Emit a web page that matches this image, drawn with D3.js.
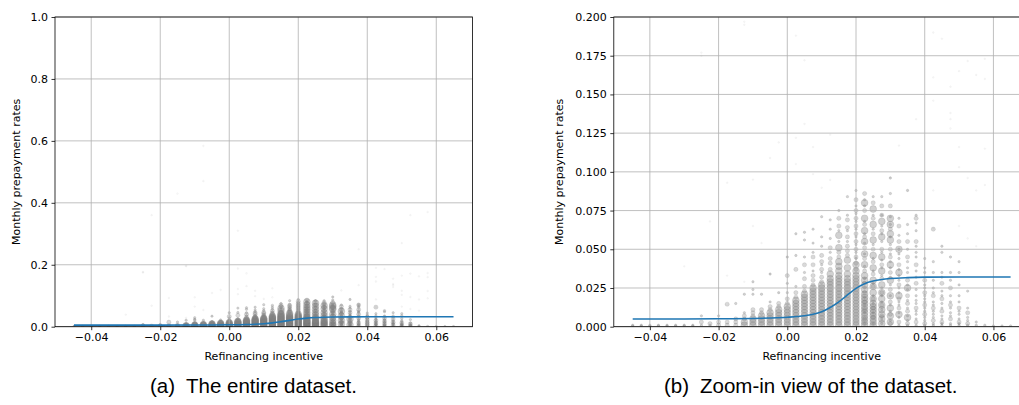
<!DOCTYPE html>
<html>
<head>
<meta charset="utf-8">
<script src="https://cdn.jsdelivr.net/npm/d3@7"></script>
<style>
  body { margin: 0; background: #fff; }
  text { font-family: "DejaVu Sans", sans-serif; }
  .caption { font-family: "Liberation Sans", Arial, sans-serif; font-size: 20.5px; fill: #000; }
</style>
</head>
<body>
<svg id="chart" width="1019" height="405"></svg>

<script>
  // refinancing incentive of each column of observations
  const incentive = [-0.045, -0.0425, -0.04, -0.0375, -0.035, -0.0325, -0.03, -0.0275, -0.025, -0.0225,
                     -0.02, -0.0175, -0.015, -0.0125, -0.01, -0.0075, -0.005, -0.0025, 0, 0.0025,
                     0.005, 0.0075, 0.01, 0.0125, 0.015, 0.0175, 0.02, 0.0225, 0.025, 0.0275,
                     0.03, 0.0325, 0.035, 0.0375, 0.04, 0.0425, 0.045, 0.0475, 0.05, 0.0525,
                     0.055, 0.0575, 0.06, 0.0625, 0.065]

  // prepayment rates per column (in 1/1000), split by marker size
  const largePts = ['', '', '', '', '', '', '', '', '', '',
    '', '', '', '1 3', '1 3 5', '1 3 5 7', '1 3 5 7 9', '1 3 5 7 9 11', '1 3 5 7 9 11 13', '1 3 5 7 9 11 13 15 17',
    '1 3 5 7 9 11 13 15 17 19 21', '1 3 5 7 9 11 13 15 17 19 21 23 25', '1 3 5 7 9 11 13 15 17 19 21 23 25 27',
    '1 3 5 7 9 11 13 15 17 19 21 23 25 27 29 31 34', '1 3 5 7 9 11 13 15 17 19 21 23 25 27 29 31 33 36 39 42 51 59',
    '1 3 5 7 9 11 13 15 17 19 21 23 25 27 29 31 34 38 43', '1 3 5 7 9 11 13 15 17 19 21 23 25 27 29 31 33 36 40',
    '1 3 5 7 9 11 13 15 17 19 21 24 27 30 33 40 47 55 62 70 80', '1 3 5 7 9 11 13 15 18 22 26 30 38 46 56 66 76',
    '2 5 8 11 14 18 22 27 36 45 58 68', '3 7 12 20 30 40 56 60 66 70', '8 20 35 50', '6 25',
    '', '', '', '', '', '', '', '', '', '', '', '']

  const mediumPts = ['', '', '', '', '', '', '', '', '3', '2',
    '1 3', '1 3 14.5', '1 3 5', '5 7', '7 9 11', '9 11', '11 13', '13 15', '15 18 33', '19 22 37',
    '23 26 31 40', '27 30 33 40 45', '29 32 37 42 46', '37 41 44 51', '45 48 65 70', '46 49 52 58 64 69',
    '37 41 45 50 55 60 65 70 75 82', '5 11 16 22 28 36 44 51 58 66 75 86', '6 12 18 26 34 42 50 60 70 80',
    '7 14 22 31 40 50 62 72 78', '2 8 16 24 35 45 50 63 78', '3 12 18 27 40 55 65', '2 10 15 20 30 45 55',
    '3 12 28 40 55 70', '2 8 14 22 30', '4 12 20 63', '3 10 18 28', '5 14 25', '3 12', '2 9',
    '', '', '', '', '']

  const smallPts = ['0.5 1', '0.5 1', '0.5 1', '0.5 1', '0.5 1', '0.5 1', '0.5 1', '0.5 1', '1 7', '1',
    '7', '', '15', '9 21', '21 24 29', '21', '16 34', '22', '22 28 45', '26 46 60',
    '35 45 56 61', '36 48 54 63', '35 40 52 58 71', '48 57 63 69', '55 62 75', '55 62 72 84',
    '44 48 53 58 63 68 73 78 88', '2 9 14 19 25 31 39 47 54 60 68 78 82', '2 9 15 20 28 36 44 53 63 72 84',
    '2 5 11 16 20 25 33 38 43 48 55 60 65 72 84', '4 10 14 20 27 32 38 42 47 53 58 66 71 86 96',
    '1 6 9 14 16 22 25 30 33 37 44 47 50 59 70', '1 4 7 12 17 24 27 35 38 42 50 60 66 88',
    '1 5 8 10 15 17 20 24 32 36 45 48 52 62 67 72', '1 4 6 10 12 16 18 20 25 27 35 38 44',
    '1 2 6 8 10 14 16 22 25 30 35 42', '1 2 5 7 12 15 20 23 32 35 48 52', '1 2 7 9 12 16 20 30 35 45',
    '1 2 5 8 10 16 20 27 35 42', '1 4 6 12 23', '1 3', '1', '0.5', '0.5', '0.5']

  // sparse, faint observations [incentive, rate]
  const outliers = [[-0.0225, 0.36], [0.0025, 0.31], [-0.025, 0.177], [-0.0125, 0.197], [0.0025, 0.188],
    [0.0375, 0.25], [0.0425, 0.19], [0.0525, 0.36], [0.0575, 0.37], [0.05, 0.27], [-0.0075, 0.584],
    [-0.0075, 0.47], [-0.015, 0.43], [-0.0125, 0.195], [-0.025, 0.175], [-0.0025, 0.119], [-0.005, 0.109],
    [-0.0175, 0.093], [-0.01, 0.095], [0.005, 0.172], [0.005, 0.131], [0.0025, 0.122], [0.0025, 0.105],
    [0.0125, 0.124], [0.0075, 0.116], [0.0075, 0.0985], [0.01, 0.0898], [0.0125, 0.0948], [0.03, 0.0965],
    [0.035, 0.088], [0.0325, 0.117], [0.0375, 0.134], [0.045, 0.186], [0.0425, 0.146], [0.0475, 0.138],
    [0.0475, 0.134], [0.0475, 0.128], [0.0525, 0.1716], [0.05, 0.165], [0.055, 0.1626], [0.0575, 0.16],
    [0.0575, 0.173], [0.0475, 0.155], [0.0425, 0.161], [0.0425, 0.088], [0.0525, 0.096], [0.05, 0.116],
    [0.0575, 0.115], [0.0575, 0.0915], [0.055, 0.088], [0.05, 0.103], [-0.03, 0.039], [-0.0225, 0.068],
    [-0.0175, 0.033], [-0.0125, 0.029], [-0.01, 0.065], [-0.0075, 0.054], [-0.005, 0.034], [-0.0025, 0.022],
    [0, 0.045], [0.0425, 0.0635], [0.05, 0.065], [0.0525, 0.057], [0.055, 0.052]]

  // fitted prepayment curve
  const fitX = [-0.045, -0.03, -0.02, -0.01, -0.005, 0, 0.005, 0.0075, 0.01, 0.0125, 0.015,
                0.0175, 0.02, 0.0225, 0.025, 0.0275, 0.03, 0.035, 0.04, 0.05, 0.065]
  const fitY = [0.0050, 0.0050, 0.0051, 0.0053, 0.0056, 0.0061, 0.0071, 0.0081, 0.0097, 0.0124, 0.0160,
                0.0205, 0.0248, 0.0278, 0.0295, 0.0305, 0.0311, 0.0317, 0.0320, 0.0321, 0.0321]

  const xTicks = [-0.04, -0.02, 0.00, 0.02, 0.04, 0.06]
  const leftYTicks = [0, 0.2, 0.4, 0.6, 0.8, 1.0]
  const rightYTicks = [0, 0.025, 0.05, 0.075, 0.1, 0.125, 0.15, 0.175, 0.2]

  const sizes = [
    { pts: largePts, r: 3.4, op: 0.36 },
    { pts: mediumPts, r: 2.1, op: 0.3 },
    { pts: smallPts, r: 1.2, op: 0.35 }
  ]

  let points = []
  sizes.forEach(function(s) {
    s.pts.forEach(function(str, i) {
      if (str === '') return
      str.split(' ').forEach(function(v) {
        points.push({ x: incentive[i], y: +v / 1000, r: s.r, op: s.op })
      })
    })
  })
  outliers.forEach(function(d) {
    points.push({ x: d[0], y: d[1], r: 0.9, op: 0.07 })
  })

  const fit = fitX.map(function(x, i) { return [x, fitY[i]] })

  const svg = d3.select('#chart')
  const plotTop = 17, plotBottom = 326.7

  const panels = [
    { id: 'a', left: 55, right: 472.5, yMax: 1, yTicks: leftYTicks, fmt: d3.format('.1f'), labX: 16.5,
      capX: 150, caption: 'The entire dataset.' },
    { id: 'b', left: 613.8, right: 1029.5, yMax: 0.2, yTicks: rightYTicks, fmt: d3.format('.3f'), labX: 559,
      capX: 664, caption: 'Zoom-in view of the dataset.' }
  ]

  panels.forEach(function(p) {
    const x = d3.scaleLinear().domain([-0.0505, 0.0705]).range([p.left, p.right])
    const y = d3.scaleLinear().domain([0, p.yMax]).range([plotBottom, plotTop])
    const g = svg.append('g')

    g.append('clipPath').attr('id', 'clip-' + p.id)
     .append('rect')
     .attr('x', p.left).attr('y', plotTop)
     .attr('width', p.right - p.left).attr('height', plotBottom - plotTop)

    // scatter
    g.append('g')
     .attr('clip-path', 'url(#clip-' + p.id + ')')
     .selectAll('circle')
     .data(points)
     .enter()
     .append('circle')
     .attr('cx', function(d) { return x(d.x) })
     .attr('cy', function(d) { return y(d.y) })
     .attr('r', function(d) { return d.r })
     .attr('fill', '#808080')
     .attr('fill-opacity', function(d) { return d.op })
     .attr('stroke', '#808080')
     .attr('stroke-width', 0.6)
     .attr('stroke-opacity', function(d) { return d.op })

    // grid
    g.append('g').selectAll('line')
     .data(xTicks).enter().append('line')
     .attr('x1', function(d) { return x(d) }).attr('x2', function(d) { return x(d) })
     .attr('y1', plotTop).attr('y2', plotBottom)
     .attr('stroke', '#b0b0b0').attr('stroke-width', 0.8)
    g.append('g').selectAll('line')
     .data(p.yTicks).enter().append('line')
     .attr('x1', p.left).attr('x2', p.right)
     .attr('y1', function(d) { return y(d) }).attr('y2', function(d) { return y(d) })
     .attr('stroke', '#b0b0b0').attr('stroke-width', 0.8)

    // fitted curve
    g.append('path')
     .datum(fit)
     .attr('clip-path', 'url(#clip-' + p.id + ')')
     .attr('fill', 'none')
     .attr('stroke', '#1f77b4')
     .attr('stroke-width', 1.6)
     .attr('d', d3.line()
       .x(function(d) { return x(d[0]) })
       .y(function(d) { return y(d[1]) })
       .curve(d3.curveMonotoneX))

    // frame
    g.append('rect')
     .attr('x', p.left).attr('y', plotTop)
     .attr('width', p.right - p.left).attr('height', plotBottom - plotTop)
     .attr('fill', 'none').attr('stroke', '#000').attr('stroke-width', 0.8)

    const xAxis = g.append('g')
      .attr('transform', 'translate(0,' + plotBottom + ')')
      .call(d3.axisBottom(x).tickValues(xTicks).tickFormat(d3.format('.2f')).tickSize(3.5).tickPadding(3.5))
    const yAxis = g.append('g')
      .attr('transform', 'translate(' + p.left + ',0)')
      .call(d3.axisLeft(y).tickValues(p.yTicks).tickFormat(p.fmt).tickSize(3.5).tickPadding(3.5))

    ;[xAxis, yAxis].forEach(function(a) {
      a.select('.domain').remove()
      a.selectAll('line').attr('stroke', '#000').attr('stroke-width', 0.8)
      a.selectAll('text').attr('font-size', 11).attr('fill', '#000')
        .style('font-family', '"DejaVu Sans", sans-serif')
    })

    g.append('text')
     .attr('x', (p.left + p.right) / 2).attr('y', 360)
     .attr('text-anchor', 'middle').attr('font-size', 11)
     .text('Refinancing incentive')

    g.append('text')
     .attr('transform', 'translate(' + p.labX + ',' + ((plotTop + plotBottom) / 2) + ') rotate(-90)')
     .attr('text-anchor', 'middle').attr('dy', '0.35em').attr('font-size', 11)
     .text('Monthly prepayment rates')

    g.append('text').attr('class', 'caption')
     .attr('x', p.capX).attr('y', 393)
     .text('(' + p.id + ')')
    g.append('text').attr('class', 'caption')
     .attr('x', p.capX + 36).attr('y', 393)
     .text(p.caption)
  })
</script>
</body>
</html>
